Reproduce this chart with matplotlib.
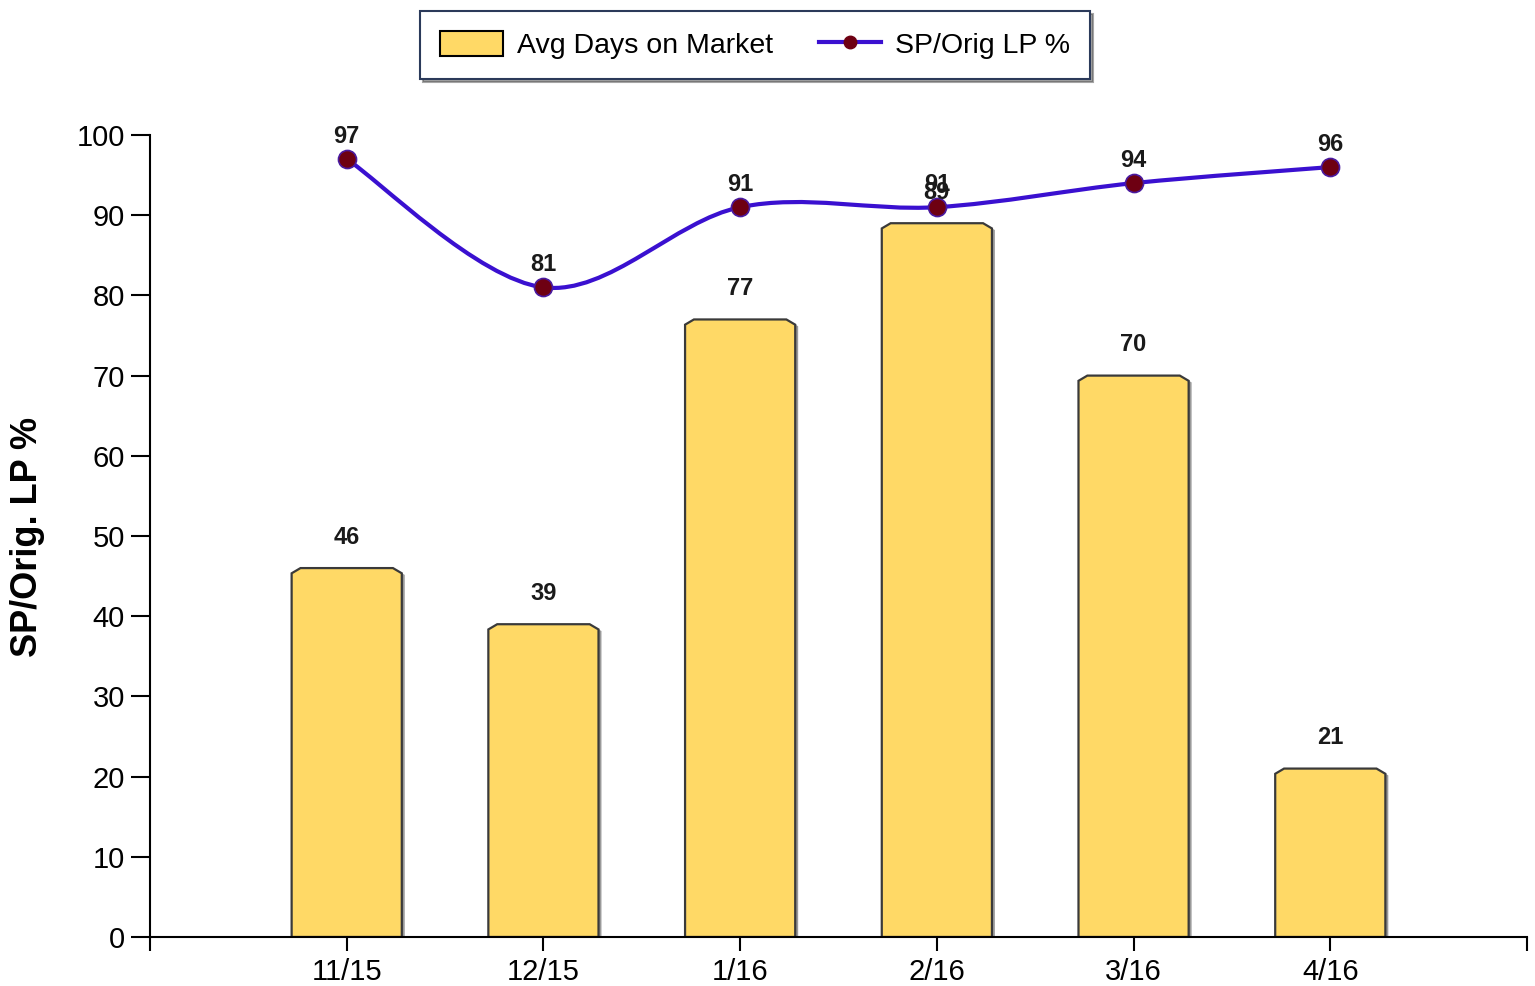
import matplotlib
matplotlib.use("Agg")
import matplotlib.pyplot as plt
import numpy as np
from matplotlib.path import Path
from matplotlib.patches import PathPatch, Polygon, Patch
from matplotlib.lines import Line2D

plt.rcParams['font.family'] = ['Liberation Sans', 'DejaVu Sans']

months = ['11/15', '12/15', '1/16', '2/16', '3/16', '4/16']
days_on_market = [46, 39, 77, 89, 70, 21]
sp_orig_lp = [97, 81, 91, 91, 94, 96]
y_ticks = [0, 10, 20, 30, 40, 50, 60, 70, 80, 90, 100]

bar_color = '#FFD966'
bar_edge = '#3A3A3A'
line_color = '#3A10D0'
marker_color = '#6E0012'

fig = plt.figure(figsize=(15.35, 9.86), dpi=100)
ax = fig.add_axes([150/1535, 49/986, (1527-150)/1535, (937-135)/986])

x = np.arange(len(months))
width = 0.56
cx = 0.045   # chamfer horizontal (data units)
cy = 0.65    # chamfer vertical (data units)

for xi, v in zip(x, days_on_market):
    l, r = xi - width/2, xi + width/2
    sh = Polygon([(l+0.015, 0), (l+0.015, v-cy-0.2), (l+cx+0.015, v-0.2), (r-cx+0.015, v-0.2),
                  (r+0.015, v-cy-0.2), (r+0.015, 0)], closed=True,
                 facecolor='#9A9A9A', edgecolor='none', zorder=1.5)
    ax.add_patch(sh)
    poly = Polygon([(l, 0), (l, v-cy), (l+cx, v), (r-cx, v), (r, v-cy), (r, 0)], closed=True,
                   facecolor=bar_color, edgecolor=bar_edge, linewidth=1.6, zorder=2)
    ax.add_patch(poly)
    ax.annotate(str(v), (xi, v), xytext=(0, 14), textcoords='offset points',
                ha='center', va='bottom', fontsize=17, fontweight='bold', color='#1a1a1a', zorder=5)

# smooth line via Catmull-Rom Bezier segments
pts = np.column_stack([x, sp_orig_lp]).astype(float)
verts = [tuple(pts[0])]
codes = [Path.MOVETO]
n = len(pts)
k = 1/6
for i in range(n-1):
    p0 = pts[i-1] if i > 0 else pts[i]
    p1 = pts[i]
    p2 = pts[i+1]
    p3 = pts[i+2] if i+2 < n else pts[i+1]
    c1 = p1 + (p2 - p0) * k
    c2 = p2 - (p3 - p1) * k
    verts += [tuple(c1), tuple(c2), tuple(p2)]
    codes += [Path.CURVE4, Path.CURVE4, Path.CURVE4]
ax.add_patch(PathPatch(Path(verts, codes), facecolor='none', edgecolor=line_color,
                       linewidth=3, zorder=3, capstyle='round'))
ax.plot(x, sp_orig_lp, linestyle='none', marker='o', markersize=13,
        markerfacecolor=marker_color, markeredgecolor='#4A1AA0', markeredgewidth=1.2, zorder=4)
for xi, v in zip(x, sp_orig_lp):
    ax.annotate(str(v), (xi, v), xytext=(0, 8), textcoords='offset points',
                ha='center', va='bottom', fontsize=17, fontweight='bold', color='#1a1a1a', zorder=5)

ax.set_xlim(-1, 6)
ax.set_ylim(0, 100)
ax.set_xticks(x)
ax.set_xticklabels(months)
ax.set_xticks([-1, 6], minor=True)
ax.set_yticks(y_ticks)
ax.tick_params(axis='x', which='both', direction='out', length=10, width=1.5, labelsize=21, pad=5, colors='black')
ax.tick_params(axis='y', direction='out', length=14, width=1.5, labelsize=21, pad=4)
for s in ['top', 'right']:
    ax.spines[s].set_visible(False)
for s in ['left', 'bottom']:
    ax.spines[s].set_linewidth(1.5)
ax.set_ylabel('SP/Orig. LP %', fontsize=26, fontweight='bold')
ax.yaxis.set_label_coords(-0.076, 0.499)

handles = [Patch(facecolor=bar_color, edgecolor='black', linewidth=1.5, label='Avg Days on Market'),
           Line2D([0], [0], color=line_color, linewidth=3, marker='o', markersize=9,
                  markerfacecolor=marker_color, markeredgecolor=marker_color, label='SP/Orig LP %')]
leg = fig.legend(handles=handles, loc='upper center', bbox_to_anchor=(0.492, 0.989), ncol=2,
                 fontsize=20.5, frameon=True, fancybox=False, shadow=True, borderpad=0.7,
                 borderaxespad=0, handlelength=2.2, handleheight=1.0, columnspacing=1.6,
                 handletextpad=0.5)
leg.get_frame().set_edgecolor('#2B3A5A')
leg.get_frame().set_linewidth(1.5)

fig.savefig('out.png', dpi=100)
